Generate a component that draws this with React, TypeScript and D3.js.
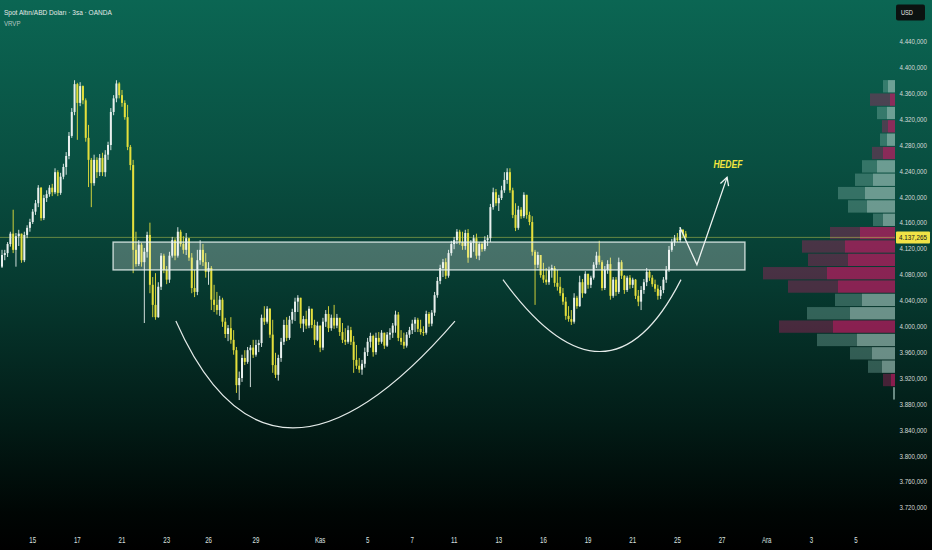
import { useEffect, useRef } from 'react';
import * as d3 from 'd3';

const WIDTH = 932;
const HEIGHT = 550;

// XAU/USD 3h bars (OANDA). A bar opens where the last one closed.
const firstOpen = 4092;

const closes = [
  4110, 4113, 4127, 4143, 4118, 4139, 4143, 4102, 4141, 4152,
  4161, 4177, 4190, 4214, 4167, 4198, 4204, 4214, 4207, 4238,
  4206, 4231, 4246, 4263, 4294, 4331, 4374, 4345, 4371, 4349,
  4291, 4257, 4221, 4257, 4238, 4260, 4238, 4265, 4280, 4331,
  4352, 4375, 4357, 4345, 4323, 4277, 4249, 4118, 4096, 4126,
  4099, 4115, 4141, 4064, 4033, 4014, 4061, 4109, 4087, 4072,
  4109, 4133, 4109, 4146, 4127, 4118, 4136, 4106, 4059, 4053,
  4102, 4118, 4099, 4084, 4090, 4041, 4033, 4025, 4041, 4007,
  3988, 3997, 3979, 3963, 3909, 3920, 3951, 3945, 3963, 3967,
  3956, 3971, 3974, 4013, 4007, 4027, 3987, 3940, 3925, 3951,
  3976, 4002, 3982, 4010, 4022, 4038, 4044, 4004, 4011, 4001,
  4027, 4002, 3979, 4001, 3967, 4007, 4019, 3997, 4013, 4001,
  4013, 3991, 3979, 3976, 3994, 3976, 3948, 3939, 3933, 3942,
  3960, 3976, 3985, 3960, 3982, 3976, 3990, 3970, 3987, 3990,
  4001, 4018, 3982, 3976, 3970, 3987, 3994, 4004, 4010, 3996,
  3991, 3990, 4019, 4004, 4021, 4048, 4070, 4090, 4099, 4078,
  4113, 4127, 4133, 4146, 4130, 4124, 4144, 4106, 4129, 4136,
  4109, 4127, 4119, 4133, 4136, 4184, 4207, 4190, 4198, 4210,
  4226, 4238, 4210, 4172, 4152, 4180, 4170, 4203, 4172, 4161,
  4115, 4095, 4110, 4079, 4072, 4068, 4087, 4090, 4067, 4061,
  4051, 4038, 4016, 4011, 4007, 4044, 4031, 4068, 4051, 4081,
  4064, 4075, 4095, 4109, 4099, 4059, 4087, 4096, 4047, 4072,
  4053, 4099, 4078, 4056, 4075, 4064, 4072, 4047, 4038, 4056,
  4068, 4084, 4075, 4065, 4058, 4047, 4056, 4072, 4087, 4118,
  4130, 4136, 4133, 4149, 4143, 4137.265,
];

const highs = [
  4118, 4118, 4130, 4146, 4180, 4144, 4149, 4138, 4146, 4156,
  4166, 4181, 4195, 4218, 4215, 4203, 4210, 4218, 4220, 4244,
  4241, 4237, 4251, 4269, 4300, 4337, 4380, 4376, 4377, 4372,
  4352, 4311, 4260, 4265, 4261, 4266, 4268, 4272, 4285, 4337,
  4357, 4380, 4377, 4365, 4349, 4342, 4280, 4257, 4146, 4133,
  4129, 4121, 4146, 4160, 4076, 4082, 4068, 4113, 4112, 4093,
  4115, 4138, 4136, 4153, 4149, 4139, 4144, 4127, 4113, 4087,
  4118, 4133, 4127, 4113, 4099, 4093, 4064, 4053, 4047, 4044,
  4013, 4002, 4014, 3994, 3968, 3930, 3956, 3963, 3968, 3971,
  3979, 3979, 3979, 4018, 4031, 4031, 4028, 4010, 3959, 3956,
  3982, 4010, 4014, 4016, 4027, 4044, 4048, 4044, 4016, 4024,
  4031, 4025, 4010, 4007, 3997, 4013, 4025, 4031, 4018, 4033,
  4019, 4013, 4005, 3997, 4001, 3999, 3985, 3971, 3951, 3948,
  3967, 3982, 3990, 3987, 3990, 3991, 3994, 3987, 3991, 3997,
  4005, 4024, 4022, 3994, 3990, 3991, 3999, 4010, 4014, 4013,
  4010, 4000, 4024, 4022, 4025, 4053, 4076, 4095, 4104, 4105,
  4118, 4132, 4138, 4150, 4149, 4146, 4149, 4150, 4133, 4141,
  4143, 4130, 4130, 4139, 4141, 4189, 4214, 4212, 4203, 4217,
  4238, 4244, 4244, 4214, 4190, 4186, 4184, 4207, 4200, 4177,
  4170, 4118, 4115, 4107, 4098, 4090, 4092, 4095, 4093, 4087,
  4076, 4059, 4045, 4031, 4025, 4051, 4047, 4078, 4073, 4085,
  4081, 4078, 4099, 4115, 4132, 4102, 4093, 4102, 4106, 4076,
  4076, 4106, 4102, 4079, 4078, 4079, 4075, 4073, 4056, 4062,
  4073, 4090, 4087, 4079, 4072, 4064, 4062, 4076, 4093, 4124,
  4135, 4141, 4144, 4153, 4150, 4147,
];

const lows = [
  4090, 4102, 4107, 4123, 4113, 4092, 4124, 4098, 4099, 4136,
  4146, 4158, 4172, 4184, 4163, 4164, 4192, 4200, 4201, 4204,
  4201, 4203, 4227, 4234, 4258, 4291, 4326, 4288, 4340, 4343,
  4285, 4215, 4184, 4217, 4229, 4232, 4232, 4231, 4257, 4272,
  4326, 4346, 4352, 4339, 4319, 4272, 4241, 4082, 4092, 4093,
  4092, 4005, 4106, 4051, 4014, 4010, 4013, 4056, 4082, 4065,
  4067, 4106, 4102, 4106, 4123, 4112, 4110, 4101, 4051, 4045,
  4048, 4095, 4093, 4075, 4064, 4025, 4022, 4018, 4016, 3999,
  3982, 3977, 3973, 3956, 3897, 3886, 3914, 3940, 3942, 3906,
  3951, 3953, 3960, 3968, 4002, 4004, 3982, 3928, 3920, 3916,
  3945, 3971, 3977, 3979, 4004, 4008, 4022, 3997, 3991, 3996,
  3997, 3997, 3971, 3977, 3960, 3963, 3999, 3991, 3993, 3996,
  3997, 3985, 3974, 3971, 3973, 3971, 3928, 3934, 3928, 3925,
  3936, 3954, 3967, 3953, 3956, 3971, 3973, 3965, 3968, 3979,
  3982, 3990, 3977, 3971, 3965, 3967, 3982, 3988, 3991, 3991,
  3987, 3985, 3987, 3999, 4000, 4016, 4044, 4065, 4076, 4073,
  4075, 4109, 4119, 4127, 4126, 4118, 4118, 4098, 4106, 4115,
  4104, 4102, 4115, 4116, 4124, 4130, 4180, 4186, 4178, 4195,
  4206, 4220, 4206, 4167, 4147, 4149, 4166, 4167, 4166, 4156,
  4109, 4033, 4090, 4075, 4067, 4064, 4064, 4075, 4061, 4055,
  4047, 4033, 4010, 4007, 4002, 4004, 4027, 4030, 4044, 4050,
  4058, 4059, 4072, 4090, 4095, 4055, 4056, 4081, 4041, 4044,
  4047, 4050, 4073, 4050, 4053, 4058, 4059, 4042, 4031, 4025,
  4050, 4062, 4070, 4061, 4053, 4041, 4042, 4051, 4067, 4084,
  4115, 4124, 4130, 4130, 4136, 4135,
];

const lastPrice = 4137.265;

const priceTicks = [
  4440, 4400, 4360, 4320, 4280, 4240, 4200, 4160, 4120, 4080,
  4040, 4000, 3960, 3920, 3880, 3840, 3800, 3760, 3720,
];

// bar index of each date label (8 bars a day, future bars included)
const dateTickBars = [11, 27, 43, 59, 74, 91, 114, 131, 147, 162, 178, 194, 210, 226, 242, 258, 274, 290, 306];
const dateTickLabels = ['15', '17', '21', '23', '26', '29', 'Kas', '5', '7', '11', '13', '16', '19', '21', '25', '27', 'Ara', '3', '5'];

// VRVP rows, top (4381) to bottom (3886)
const vpHigh = 4381;
const vpLow = 3886;
const vpSell = [5, 20, 10, 6, 7, 11, 15, 18, 27, 19, 10, 30, 43, 40, 64, 50, 27, 43, 54, 40, 22, 14, 8, 0];
const vpBuy = [7, 5, 8, 7, 8, 12, 18, 22, 30, 28, 12, 35, 50, 47, 68, 57, 33, 45, 62, 38, 23, 13, 4, 2];
const vpKind = ['g', 'm', 'g', 'm', 'g', 'm', 'g', 'g', 'g', 'g', 'g', 'm', 'm', 'm', 'm', 'm', 'g', 'g', 'm', 'g', 'g', 'g', 'm', 'g'];

// drawings, in [bar, price]
const zoneBars = [39.8, 266.2];
const zonePrices = [4130, 4087];
const bigCup = [[62.3, 4008], [96.2, 3678], [162.3, 4008]];
const smallCup = [[179.5, 4072], [217.1, 3850], [243.3, 4072]];
const targetPath = [[242.9, 4153], [249.0, 4095], [259.8, 4230]];
const targetLabel = 'HEDEF';
const targetLabelAt = [260.1, 4244];

const FONT = '"Liberation Sans", Arial, sans-serif';

export default function App() {
  const svgRef = useRef<SVGSVGElement>(null);

  useEffect(() => {
    if (!svgRef.current) return;
    const svg = d3.select(svgRef.current);
    svg.selectAll('*').remove();

    const x = d3.scaleLinear().domain([0, 306]).range([2, 856]);
    const y = d3.scaleLinear().domain([3720, 4400]).range([507.5, 67.3]);

    const fmt = d3.formatLocale({ decimal: ',', thousands: '.', grouping: [3], currency: ['', ''] }).format(',.3f');

    // squeeze text horizontally to the narrow UI font of the screenshot
    const fit = (sel: any, width?: number, k = 0.78) =>
      sel.each(function (this: SVGTextElement) {
        const t = d3.select(this);
        const w = this.getComputedTextLength();
        const s = width ? width / w : k;
        const tx = +t.attr('x');
        const ty = +t.attr('y');
        t.attr('x', 0).attr('y', 0).attr('transform', `translate(${tx},${ty}) scale(${s},1)`);
      });

    // background
    const defs = svg.append('defs');
    const grad = defs.append('linearGradient').attr('id', 'bg').attr('x1', 0).attr('y1', 0).attr('x2', 0).attr('y2', 1);
    [
      ['0%', '#0b6653'],
      ['30%', '#094f41'],
      ['52%', '#063a30'],
      ['78%', '#021a15'],
      ['93%', '#000604'],
      ['100%', '#000000'],
    ].forEach(([o, c]) => grad.append('stop').attr('offset', o).attr('stop-color', c));
    svg.append('rect').attr('width', WIDTH).attr('height', HEIGHT).attr('fill', 'url(#bg)');

    // volume profile
    const nRows = vpBuy.length;
    const rowH = (y(vpLow) - y(vpHigh)) / nRows;
    const vol = d3.scaleLinear()
      .domain([0, d3.max(vpBuy.map((b, i) => b + vpSell[i])) || 1])
      .range([0, 132]);
    const vpRight = 895;
    const vp = svg.append('g');
    vpBuy.forEach((b, i) => {
      const top = y(vpHigh) + i * rowH;
      const m = vpKind[i] === 'm';
      vp.append('rect')
        .attr('x', vpRight - vol(b + vpSell[i]))
        .attr('y', top + 0.5)
        .attr('width', vol(vpSell[i]))
        .attr('height', rowH - 1)
        .attr('fill', m ? 'rgba(190,30,100,0.36)' : 'rgba(140,190,180,0.34)');
      vp.append('rect')
        .attr('x', vpRight - vol(b))
        .attr('y', top + 0.5)
        .attr('width', vol(b))
        .attr('height', rowH - 1)
        .attr('fill', m ? 'rgba(200,25,100,0.68)' : 'rgba(175,208,200,0.6)');
    });

    // last price line
    svg.append('line')
      .attr('x1', 0).attr('x2', vpRight)
      .attr('y1', y(lastPrice)).attr('y2', y(lastPrice))
      .attr('stroke', 'rgba(195,205,80,0.5)')
      .attr('stroke-width', 1);

    // candles
    const bars = closes.map((c, i) => {
      const o = i === 0 ? firstOpen : closes[i - 1];
      return { i, o, c, h: Math.max(highs[i], o, c), l: Math.min(lows[i], o, c) };
    });
    const up = '#e8f0ee';
    const down = '#e4df3c';
    const cg = svg.append('g');
    cg.selectAll('line')
      .data(bars)
      .enter().append('line')
      .attr('x1', d => x(d.i)).attr('x2', d => x(d.i))
      .attr('y1', d => y(d.h)).attr('y2', d => y(d.l))
      .attr('stroke', d => (d.c >= d.o ? up : down))
      .attr('stroke-width', 0.9);
    cg.selectAll('rect')
      .data(bars)
      .enter().append('rect')
      .attr('x', d => x(d.i) - 1)
      .attr('width', 2)
      .attr('y', d => y(Math.max(d.o, d.c)))
      .attr('height', d => Math.max(1, Math.abs(y(d.o) - y(d.c))))
      .attr('fill', d => (d.c >= d.o ? up : down));

    // zone
    svg.append('rect')
      .attr('x', x(zoneBars[0]))
      .attr('y', y(zonePrices[0]))
      .attr('width', x(zoneBars[1]) - x(zoneBars[0]))
      .attr('height', y(zonePrices[1]) - y(zonePrices[0]))
      .attr('fill', 'rgba(255,255,255,0.26)')
      .attr('stroke', 'rgba(235,245,242,0.8)')
      .attr('stroke-width', 1.4);

    // cups
    const quad = (pts: number[][]) => {
      const p = d3.path();
      p.moveTo(x(pts[0][0]), y(pts[0][1]));
      p.quadraticCurveTo(x(pts[1][0]), y(pts[1][1]), x(pts[2][0]), y(pts[2][1]));
      return p.toString();
    };
    [bigCup, smallCup].forEach(c =>
      svg.append('path')
        .attr('d', quad(c))
        .attr('fill', 'none')
        .attr('stroke', '#e4ebe9')
        .attr('stroke-width', 1.2));

    // target arrow
    const line = d3.line<number[]>().x(d => x(d[0])).y(d => y(d[1]));
    svg.append('path')
      .attr('d', line(targetPath))
      .attr('fill', 'none')
      .attr('stroke', '#edf3f1')
      .attr('stroke-width', 1.3);
    const tip = [x(targetPath[2][0]), y(targetPath[2][1])];
    const from = [x(targetPath[1][0]), y(targetPath[1][1])];
    const ang = Math.atan2(tip[1] - from[1], tip[0] - from[0]);
    const head = [ang + Math.PI - 0.5, ang + Math.PI + 0.5].map(a => [tip[0] + 9 * Math.cos(a), tip[1] + 9 * Math.sin(a)]);
    svg.append('path')
      .attr('d', `M${head[0][0]},${head[0][1]}L${tip[0]},${tip[1]}L${head[1][0]},${head[1][1]}`)
      .attr('fill', 'none')
      .attr('stroke', '#edf3f1')
      .attr('stroke-width', 1.3);

    fit(svg.append('text')
      .attr('x', x(targetLabelAt[0]))
      .attr('y', y(targetLabelAt[1]))
      .attr('text-anchor', 'middle')
      .style('font-family', FONT)
      .style('font-size', '11px')
      .style('font-weight', 'bold')
      .style('font-style', 'italic')
      .style('fill', '#f2e63e')
      .text(targetLabel), 29);

    // price scale
    const pg = svg.append('g');
    fit(pg.selectAll('text')
      .data(priceTicks)
      .enter().append('text')
      .attr('x', 899.5)
      .attr('y', d => y(d))
      .attr('dy', '0.35em')
      .style('font-family', FONT)
      .style('font-size', '8px')
      .style('fill', '#d5dbd9')
      .text(d => fmt(d)), 27.5);

    // last price tag
    svg.append('rect')
      .attr('x', 896).attr('y', y(lastPrice) - 6)
      .attr('width', 34).attr('height', 12)
      .attr('rx', 1)
      .attr('fill', '#f1e346');
    fit(svg.append('text')
      .attr('x', 899)
      .attr('y', y(lastPrice))
      .attr('dy', '0.35em')
      .style('font-family', FONT)
      .style('font-size', '8px')
      .style('fill', '#131722')
      .text(fmt(lastPrice)), 28);

    // time scale
    fit(svg.append('g').selectAll('text')
      .data(dateTickBars)
      .enter().append('text')
      .attr('x', d => x(d))
      .attr('y', 543)
      .attr('text-anchor', 'middle')
      .style('font-family', FONT)
      .style('font-size', '8.5px')
      .style('fill', '#dde2e0')
      .text((d, i) => dateTickLabels[i]), undefined, 0.72);

    // header
    fit(svg.append('text')
      .attr('x', 4).attr('y', 14.5)
      .style('font-family', FONT)
      .style('font-size', '8px')
      .style('fill', '#e4eae8')
      .text('Spot Altın/ABD Doları · 3sa · OANDA'), 108);
    fit(svg.append('text')
      .attr('x', 4).attr('y', 26)
      .style('font-family', FONT)
      .style('font-size', '7.5px')
      .style('fill', '#b9c6c2')
      .text('VRVP'), 16.5);

    svg.append('rect')
      .attr('x', 896).attr('y', 4.5)
      .attr('width', 29).attr('height', 16)
      .attr('rx', 2)
      .attr('fill', '#0b1210');
    fit(svg.append('text')
      .attr('x', 901).attr('y', 15)
      .style('font-family', FONT)
      .style('font-size', '7px')
      .style('fill', '#e6e9e8')
      .text('USD'), 12);
  }, []);

  return (
    <div style={{ width: WIDTH, height: HEIGHT }}>
      <style>{'body{margin:0;overflow:hidden;background:#000}'}</style>
      <svg ref={svgRef} width={WIDTH} height={HEIGHT} style={{ display: 'block' }} />
    </div>
  );
}
